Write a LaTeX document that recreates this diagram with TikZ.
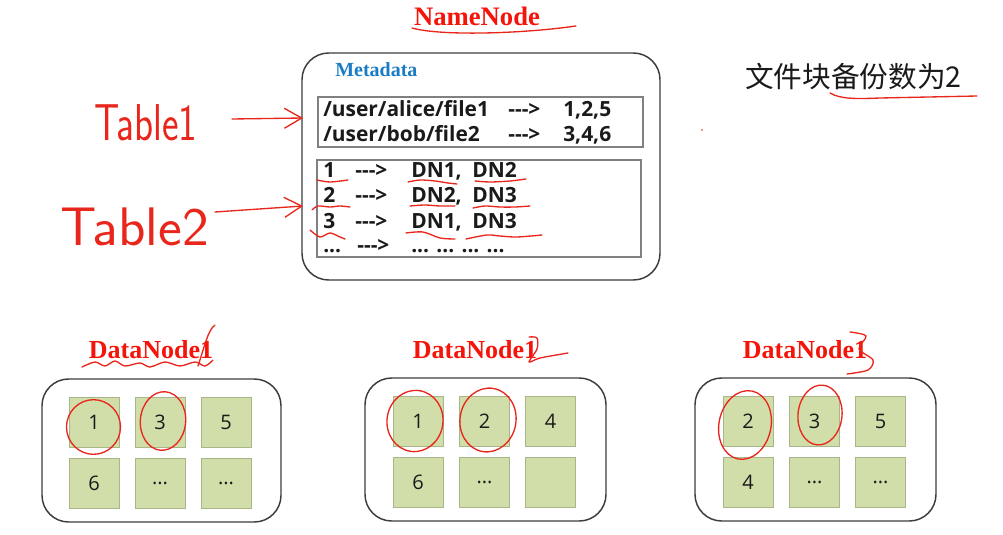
\documentclass[tikz,border=0pt]{standalone}
\usepackage{fontspec}
\usepackage{graphicx}
\usetikzlibrary{arrows.meta,fit}
\newfontfamily\tnr{Liberation Serif}
\newfontfamily\seg{Open Sans}
\newfontfamily\cjk{Noto Sans CJK SC}
\definecolor{pencol}{HTML}{E8261C}
\definecolor{hdr}{HTML}{F5140A}
\definecolor{mblue}{HTML}{1A7CC4}
\definecolor{sqfill}{HTML}{D1DEA9}
\definecolor{sqline}{HTML}{A8B78A}
\definecolor{boxline}{HTML}{3C3C3C}
\definecolor{tabline}{HTML}{808080}
\definecolor{ink}{HTML}{1A1A1A}
\begin{document}
\begin{tikzpicture}[x=0.75pt,y=-0.75pt,
  roundbox/.style={draw=boxline, line width=1.1pt, rounded corners=20pt, inner sep=0pt},
  tabbox/.style={draw=tabline, line width=0.8pt, inner sep=0pt},
  sq/.style={draw=sqline, fill=sqfill, line width=0.6pt, minimum size=37.5pt, inner sep=0pt, text=ink, font=\seg\fontsize{15}{18}\selectfont},
  title/.style={text=hdr, font=\tnr\bfseries\fontsize{19.5}{24}\selectfont, inner sep=0pt, anchor=base},
  tx/.style={text=ink, font=\seg\bfseries\fontsize{15.7}{18}\selectfont, inner sep=0pt, anchor=base west},
  redpen/.style={draw=pencol, line width=1pt, line cap=round, line join=round},
  hand/.style={text=pencol, font=\sffamily\fontsize{37}{40}\selectfont, inner sep=0pt, anchor=base},
  handarrow/.style={redpen, -{Straight Barb[length=13pt,width=15pt]}},
]
\useasboundingbox (0,0) rectangle (1003,535);

% ---------- NameNode ----------
\node[title, font=\tnr\bfseries\fontsize{20}{24}\selectfont] (nntitle) at (477,26) {NameNode};
\draw[redpen] (412,28) .. controls (440,36) and (520,34) .. (576,26);

\node[roundbox, fit={(302,53) (660,280)}] (nn) {};
\node[text=mblue, font=\tnr\bfseries\fontsize{15}{17}\selectfont, inner sep=0pt, anchor=base west] (meta) at (335,77) {Metadata};

\node[tabbox, fit={(318,97) (643,147)}] (tab1) {};
\node[tx] (r1a) at (323,117) {/user/alice/file1};
\node[tx] (r1b) at (508,117) {--->};
\node[tx] (r1c) at (563,117) {1,2,5};
\node[tx] (r2a) at (323,141) {/user/bob/file2};
\node[tx] (r2b) at (508,141) {--->};
\node[tx] (r2c) at (563,141) {3,4,6};

\node[tabbox, fit={(317,160) (641,257)}] (tab2) {};
\node[tx] (s1a) at (323,177) {1};
\node[tx] (s1b) at (355,177) {--->};
\node[tx] (s1c) at (411,177) {DN1,};
\node[tx] (s1d) at (472,177) {DN2};
\node[tx] (s2a) at (323,202) {2};
\node[tx] (s2b) at (355,202) {--->};
\node[tx] (s2c) at (411,202) {DN2,};
\node[tx] (s2d) at (472,202) {DN3};
\node[tx] (s3a) at (323,228) {3};
\node[tx] (s3b) at (355,228) {--->};
\node[tx] (s3c) at (411,228) {DN1,};
\node[tx] (s3d) at (472,228) {DN3};
\node[tx] (s4a) at (323,252) {...};
\node[tx] (s4b) at (357,252) {--->};
\node[tx] (s4c) at (411,252) {... ... ... ...};

% red underlines in table 2
\draw[redpen] plot[smooth] coordinates {(317,180) (330,182) (348,180)};
\draw[redpen] plot[smooth] coordinates {(408,182) (420,180) (435,181) (448,183) (457,184)};
\draw[redpen] plot[smooth] coordinates {(475,181) (490,182) (510,181) (526,179)};
\draw[redpen] plot[smooth] coordinates {(312,210) (318,206) (330,207) (340,206) (350,207)};
\draw[redpen] plot[smooth] coordinates {(410,206) (425,205) (440,206) (455,206)};
\draw[redpen] plot[smooth] coordinates {(473,208) (485,206) (500,207) (515,207) (530,206)};
\draw[redpen] plot[smooth] coordinates {(310,230) (320,237) (330,233) (340,237) (345,239)};
\draw[redpen] plot[smooth] coordinates {(406,233) (423,232) (440,238) (455,239)};
\draw[redpen] plot[smooth] coordinates {(466,239) (487,235) (500,236) (517,237) (542,235)};

% ---------- handwritten table labels ----------
\node[hand] (t1) at (146,140) {\scalebox{0.8}[1.05]{Table1}};
\node[hand] (t2) at (135,245) {\scalebox{1.15}[1.1]{Table2}};
\coordinate (a1s) at (232,119);
\coordinate (a1e) at (303,118);
\coordinate (a2s) at (215,212);
\coordinate (a2e) at (303,206);
\draw[handarrow] (a1s) -- (a1e);
\draw[handarrow] (a2s) -- (a2e);

% ---------- replication note ----------
\node[text=ink, font=\cjk\fontsize{21.5}{24}\selectfont, inner sep=0pt, anchor=base west] (note) at (745,88) {文件块备份数为2};
\draw[redpen] (830,93) .. controls (840,99) and (855,99) .. (880,98) -- (977,96);
\fill[pencol] (702,130) circle (0.7pt);

% ---------- DataNodes ----------
\node[title] (dn1t) at (151,358) {DataNode1};
\node[title] (dn2t) at (475,358) {DataNode1};
\node[title] (dn3t) at (805,358) {DataNode1};

\node[roundbox, fit={(42,379) (281,522)}] (dn1) {};
\node[roundbox, fit={(365,378) (606,521)}] (dn2) {};
\node[roundbox, fit={(695,378) (936,521)}] (dn3) {};

\node[sq] (d1a) at (94,422) {1};
\node[sq] (d1b) at (160,422) {3};
\node[sq] (d1c) at (226,422) {5};
\node[sq] (d1d) at (94,483) {6};
\node[sq] (d1e) at (160,483) {...};
\node[sq] (d1f) at (226,483) {...};

\node[sq] (d2a) at (418,421) {1};
\node[sq] (d2b) at (484.5,421) {2};
\node[sq] (d2c) at (550.5,421) {4};
\node[sq] (d2d) at (418,482.5) {6};
\node[sq] (d2e) at (484.5,482.5) {...};
\node[sq] (d2f) at (550.5,482.5) {};

\node[sq] (d3a) at (748,421) {2};
\node[sq] (d3b) at (814.5,421) {3};
\node[sq] (d3c) at (880.5,421) {5};
\node[sq] (d3d) at (748,482.5) {4};
\node[sq] (d3e) at (814.5,482.5) {...};
\node[sq] (d3f) at (880.5,482.5) {...};

% handwritten marks on DataNode titles
\draw[redpen] plot[smooth] coordinates {(82,367) (95,362) (105,366) (115,361) (125,366) (140,363) (150,367) (165,362) (180,366) (195,362) (205,366) (213,360)};
\draw[redpen] (198,366) .. controls (205,345) and (208,330) .. (215,325);
\draw[redpen] plot[smooth] coordinates {(529,337) (537,338) (537,349) (529,362) (540,358) (568,353)};
\draw[redpen] plot[smooth] coordinates {(850,332) (866,336) (859,349) (873,360) (868,370) (847,374)};

% circles
\draw[redpen] (93.5,427) ellipse [x radius=20.25pt, y radius=20.5pt];
\draw[redpen, rotate around={-5:(163,421)}] (163,421) ellipse [x radius=17pt, y radius=22pt];
\draw[redpen, rotate around={-8:(415,421)}] (415,421) ellipse [x radius=21pt, y radius=23pt];
\draw[redpen, rotate around={-10:(488,420)}] (488,420) ellipse [x radius=21pt, y radius=24pt];
\draw[redpen, rotate around={-12:(745,425)}] (745,425) ellipse [x radius=19.5pt, y radius=26pt];
\draw[redpen, rotate around={-6:(820,415)}] (820,415) ellipse [x radius=16.5pt, y radius=22.5pt];
\end{tikzpicture}
\end{document}
